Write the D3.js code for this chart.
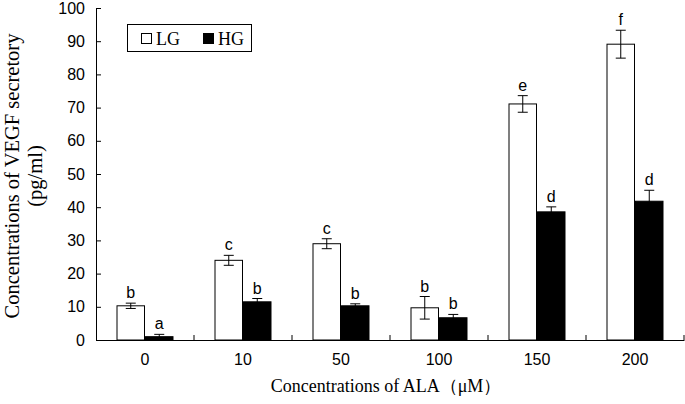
<!DOCTYPE html>
<html><head><meta charset="utf-8">
<script src="https://cdn.jsdelivr.net/npm/d3@7"></script>
<style>body{margin:0;background:#fff;}svg{display:block;}</style>
</head><body>
<svg id="c" width="685" height="404"></svg>
<script>
const categories = ["0","10","50","100","150","200"];
const seriesNames = ["LG","HG"];
const lgValues = [10.3, 24.0, 29.0, 9.7, 71.1, 89.1];
const lgErrors = [0.8, 1.5, 1.5, 3.4, 2.5, 4.2];
const lgLetters = ["b","c","c","b","e","f"];
const hgValues = [1.0, 11.5, 10.3, 6.7, 38.6, 41.8];
const hgErrors = [0.7, 1.0, 0.6, 1.0, 1.5, 3.3];
const hgLetters = ["a","b","b","b","d","d"];
const yTicks = [0,10,20,30,40,50,60,70,80,90,100];

const svg = d3.select("#c");
const m = {left:96, right:684, top:8, bottom:340};
const x = d3.scaleBand().domain(categories).range([m.left, m.right]);
const xs = d3.scaleBand().domain(seriesNames).range([0, 57]);
const y = d3.scaleLinear().domain([0,100]).range([m.bottom, m.top]);
const off = (x.bandwidth()-57)/2;

const data = categories.map((c,i)=>({c, s:[
  {k:"LG", v:lgValues[i], e:lgErrors[i], l:lgLetters[i], fill:"#fff"},
  {k:"HG", v:hgValues[i], e:hgErrors[i], l:hgLetters[i], fill:"#000"}]}));

const g = svg.append("g");
data.forEach(d=>{
  d.s.forEach(s=>{
    const bx = x(d.c)+off+xs(s.k);
    const bw = xs.bandwidth();
    g.append("rect").attr("x",bx+0.5).attr("y",y(s.v)).attr("width",bw-1).attr("height",y(0)-y(s.v))
      .attr("fill",s.fill).attr("stroke","#000").attr("stroke-width",1);
    const cx = bx+bw/2;
    g.append("line").attr("x1",cx).attr("x2",cx).attr("y1",y(s.v+s.e)).attr("y2",y(s.v-s.e)).attr("stroke","#000");
    [s.v+s.e, s.v-s.e].forEach(v=>{
      g.append("line").attr("x1",cx-5).attr("x2",cx+5).attr("y1",y(v)).attr("y2",y(v)).attr("stroke","#000");
    });
    g.append("text").attr("x",cx).attr("y",y(s.v+s.e)-5).attr("text-anchor","middle")
      .attr("font-family","Liberation Sans, Arial, sans-serif").attr("font-size",16).text(s.l);
  });
});

// y axis
const ya = d3.axisLeft(y).tickValues(yTicks).tickSize(-5).tickPadding(11).tickSizeOuter(0);
const yg = svg.append("g").attr("transform",`translate(${m.left},0)`).call(ya);
yg.selectAll("text").attr("font-family","Liberation Sans, Arial, sans-serif").attr("font-size",16).attr("fill","#000");
yg.selectAll("line,path").attr("stroke","#000");

// x axis
const xa = d3.axisBottom(x).tickSize(0).tickPadding(14).tickSizeOuter(0);
const xg = svg.append("g").attr("transform",`translate(0,${m.bottom})`).call(xa);
xg.selectAll("text").attr("font-family","Liberation Sans, Arial, sans-serif").attr("font-size",16).attr("fill","#000");
xg.select("path").attr("stroke","#000");
xg.selectAll(".bt").data(categories).enter().append("line").attr("class","bt")
  .attr("x1",d=>x(d)+x.bandwidth()).attr("x2",d=>x(d)+x.bandwidth()).attr("y1",0).attr("y2",-5).attr("stroke","#000");

// titles
svg.append("text").attr("x",386).attr("y",392).attr("text-anchor","middle")
  .attr("font-family","Liberation Serif, Times New Roman, serif").attr("font-size",18).text("Concentrations of ALA（μM）");
svg.append("text").attr("transform","translate(19,176) rotate(-90)").attr("text-anchor","middle")
  .attr("font-family","Liberation Serif, Times New Roman, serif").attr("font-size",20.5).text("Concentrations of VEGF secretory");
svg.append("text").attr("transform","translate(42,176) rotate(-90)").attr("text-anchor","middle")
  .attr("font-family","Liberation Serif, Times New Roman, serif").attr("font-size",20.5).text("(pg/ml)");

// legend
const lg = svg.append("g");
lg.append("rect").attr("x",127.5).attr("y",24.5).attr("width",124).attr("height",27).attr("fill","#fff").attr("stroke","#000");
const fills = {LG:"#fff", HG:"#000"};
const lx = {LG:141, HG:203};
seriesNames.forEach(k=>{
  lg.append("rect").attr("x",lx[k]+0.5).attr("y",33.5).attr("width",10).attr("height",10).attr("fill",fills[k]).attr("stroke","#000");
  lg.append("text").attr("x",lx[k]+15).attr("y",45).attr("font-family","Liberation Serif, Times New Roman, serif").attr("font-size",18).text(k);
});
</script>
</body></html>
